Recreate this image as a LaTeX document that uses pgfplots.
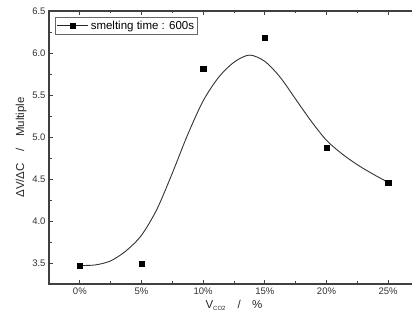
\documentclass[border=0pt]{standalone}
\usepackage{fontspec}
\setmainfont{Liberation Sans}
\usepackage{pgfplots}
\pgfplotsset{compat=1.18}
\usetikzlibrary{calc}
\begin{document}
\begin{tikzpicture}
\begin{axis}[
  scale only axis,
  width=370pt, height=273pt,
  xmin=-2.5, xmax=27.5,
  ymin=3.25, ymax=6.5,
  xtick={0,5,10,15,20,25},
  xticklabels={0\%,5\%,10\%,15\%,20\%,25\%},
  ytick={3.5,4.0,4.5,5.0,5.5,6.0,6.5},
  yticklabel style={/pgf/number format/.cd, fixed, fixed zerofill, precision=1},
  minor x tick num=1,
  minor y tick num=1,
  /pgf/number format/assume math mode=true,
  tick label style={font=\fontsize{9.5}{11}\selectfont, text=black!80},
  axis line style={black!75, line width=1.1pt},
  every tick/.style={black!75, line width=0.8pt},
  major tick length=4pt, minor tick length=2.5pt,
  xlabel={V\textsubscript{\fontsize{6}{7}\selectfont CO2}\quad/\quad\%},
  ylabel={ΔV/ΔC\quad/\quad Multiple},
  label style={font=\fontsize{11.5}{13}\selectfont, text=black!85},
  xlabel style={yshift=1pt},
  ylabel style={yshift=-1pt},
  legend style={at={(0.016,0.978)}, anchor=north west, draw=black!60, line width=0.5pt,
    font=\fontsize{11.5}{13}\selectfont, inner sep=1.5pt, row sep=0pt,
    legend cell align=left},
  legend image code/.code={
    \draw[black!85, line width=0.8pt] (-0.1cm,0cm) -- (1.0cm,0cm);
    \fill[black] (0.45cm,0cm) ++(-2.2pt,-2.2pt) rectangle ++(4.4pt,4.4pt);
  },
]
\addplot[black!80, line width=0.9pt, smooth, forget plot] coordinates {
  (0,3.47) (1.25,3.477) (2.5,3.525) (3.75,3.645) (5.0,3.83) (6.25,4.14)
  (7.5,4.57) (8.75,5.03) (10.0,5.43) (11.25,5.71) (12.5,5.89) (13.75,5.975)
  (15.0,5.90) (16.25,5.71) (17.5,5.45) (18.75,5.19) (20.0,4.96)
  (21.25,4.80) (22.5,4.67) (23.75,4.56) (25,4.46)
};
\addplot[only marks, mark=square*, mark size=2.6pt, black, forget plot] coordinates {
  (0,3.47) (5,3.49) (10,5.81) (15,6.18) (20,4.87) (25,4.46)
};
\addlegendimage{black}
\addlegendentry{smelting time : 600s}
\end{axis}
\pgfresetboundingbox
\useasboundingbox (current axis.south west) ++(-49pt,-41pt) rectangle ($(current axis.north west)+(412pt-49pt,11pt)$);
\end{tikzpicture}
\end{document}
